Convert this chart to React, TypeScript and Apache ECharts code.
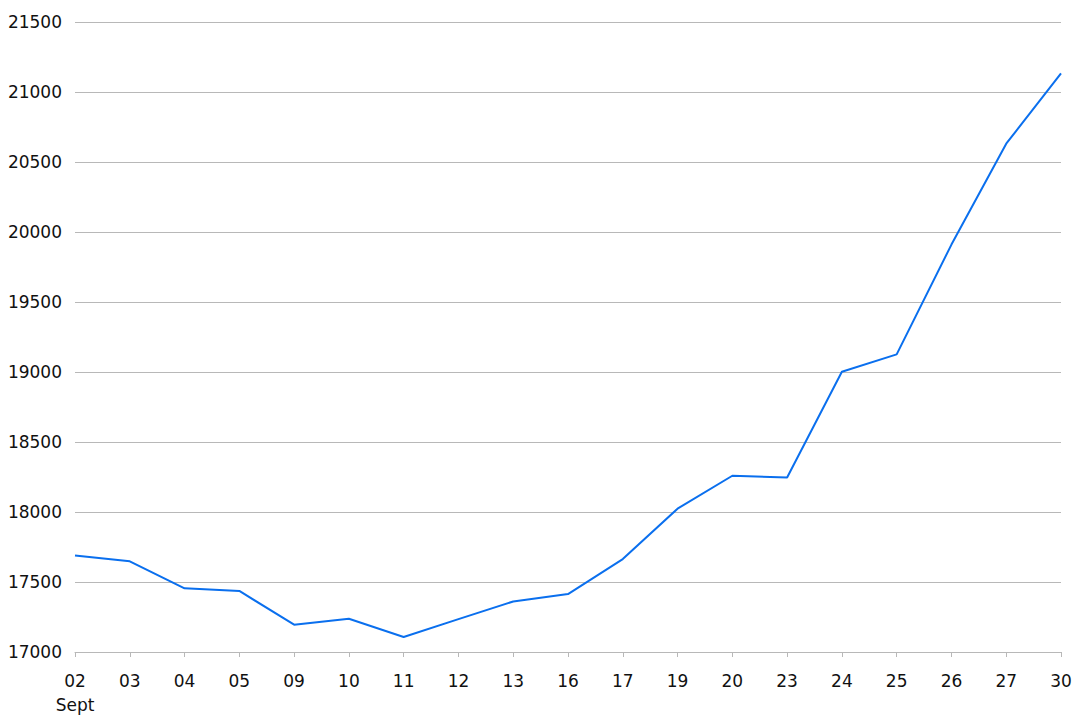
import React, { useEffect, useRef } from "react";
import * as echarts from "echarts";

const days = ["02", "03", "04", "05", "09", "10", "11", "12", "13", "16", "17", "19", "20", "23", "24", "25", "26", "27", "30"];
const values = [17690, 17648, 17455, 17436, 17195, 17238, 17107, 17235, 17361, 17414, 17664, 18024, 18259, 18247, 19002, 19126, 19910, 20631, 21133];
const monthLabel = "Sept";
const yMin = 17000;
const yMax = 21500;
const yStep = 500;

export default function App() {
  const ref = useRef<HTMLDivElement>(null);
  useEffect(() => {
    document.body.style.margin = "0";
    const chart = echarts.init(ref.current!, null, { renderer: "svg" });
    const font = "'DejaVu Sans', Verdana, sans-serif";
    chart.setOption({
      animation: false,
      grid: { left: 75, right: 31, top: 22, bottom: 66, containLabel: false },
      xAxis: {
        type: "category",
        data: days,
        boundaryGap: false,
        axisLine: { lineStyle: { color: "#b8b8b8", width: 1 } },
        axisTick: { show: true, length: 5, alignWithLabel: true, lineStyle: { color: "#b8b8b8" } },
        axisLabel: {
          interval: 0,
          margin: 17,
          color: "#111",
          fontFamily: font,
          fontSize: 17,
          lineHeight: 24,
          formatter: (v: string, i: number) => (i === 0 ? v + "\n" + monthLabel : v),
        },
        splitLine: { show: false },
      },
      yAxis: {
        type: "value",
        min: yMin,
        max: yMax,
        interval: yStep,
        axisLine: { show: false },
        axisTick: { show: false },
        axisLabel: {
          margin: 13,
          color: "#111",
          fontFamily: font,
          fontSize: 17,
          formatter: (v: number) => String(v),
        },
        splitLine: { lineStyle: { color: "#b8b8b8", width: 1 } },
      },
      series: [
        {
          type: "line",
          data: values,
          symbol: "none",
          lineStyle: { color: "#0a6fee", width: 2 },
        },
      ],
    });
    return () => chart.dispose();
  }, []);
  return <div ref={ref} style={{ width: 1092, height: 718 }} />;
}
